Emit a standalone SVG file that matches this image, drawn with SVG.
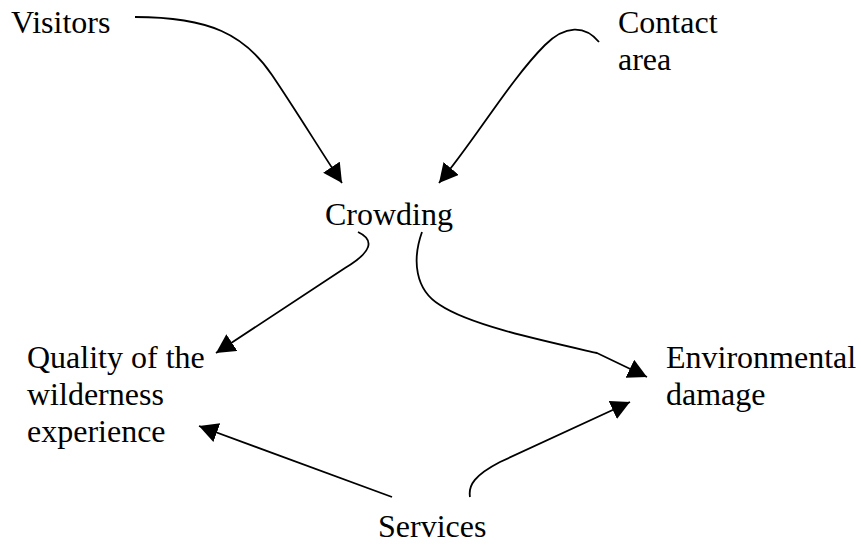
<svg xmlns="http://www.w3.org/2000/svg" width="861" height="546" viewBox="0 0 861 546">
<style>
text{font-family:"Liberation Serif","Times New Roman",serif;font-size:32px;fill:#000}
.c{fill:none;stroke:#000;stroke-width:1.8;marker-end:url(#ah)}
</style>
<defs>
<marker id="ah" markerUnits="userSpaceOnUse" markerWidth="22" markerHeight="22" refX="19" refY="10" orient="auto">
<path d="M0,0 L19,10 L0,20 z" fill="#000"/>
</marker>
</defs>
<rect width="861" height="546" fill="#fff"/>
<g id="visitors"><text x="11" y="33">Visitors</text></g>
<g id="contact"><text x="618" y="33">Contact</text><text x="618" y="70">area</text></g>
<g id="crowding"><text x="325" y="225">Crowding</text></g>
<g id="quality"><text x="27" y="368">Quality of the</text><text x="27" y="405">wilderness</text><text x="27" y="442">experience</text></g>
<g id="environmental"><text x="666" y="368">Environmental</text><text x="666" y="405">damage</text></g>
<g id="services"><text x="378" y="537">Services</text></g>
<g id="connectors">
<path class="c" d="M135,17 C210,17 245,35 272,75 S320,150 342,183"/>
<path class="c" d="M599,42 C585,25 565,25 545,45 C510,80 475,140 439,183"/>
<path class="c" d="M358,232 C375,240 372,252 345,268 L216,353"/>
<path class="c" d="M422,232 C412,260 415,290 440,305 C470,325 540,340 597,353 L647,377"/>
<path class="c" d="M392,497 L199,426"/>
<path class="c" d="M470,497 C468,485 475,475 500,462 L630,402"/>
</g>
</svg>
